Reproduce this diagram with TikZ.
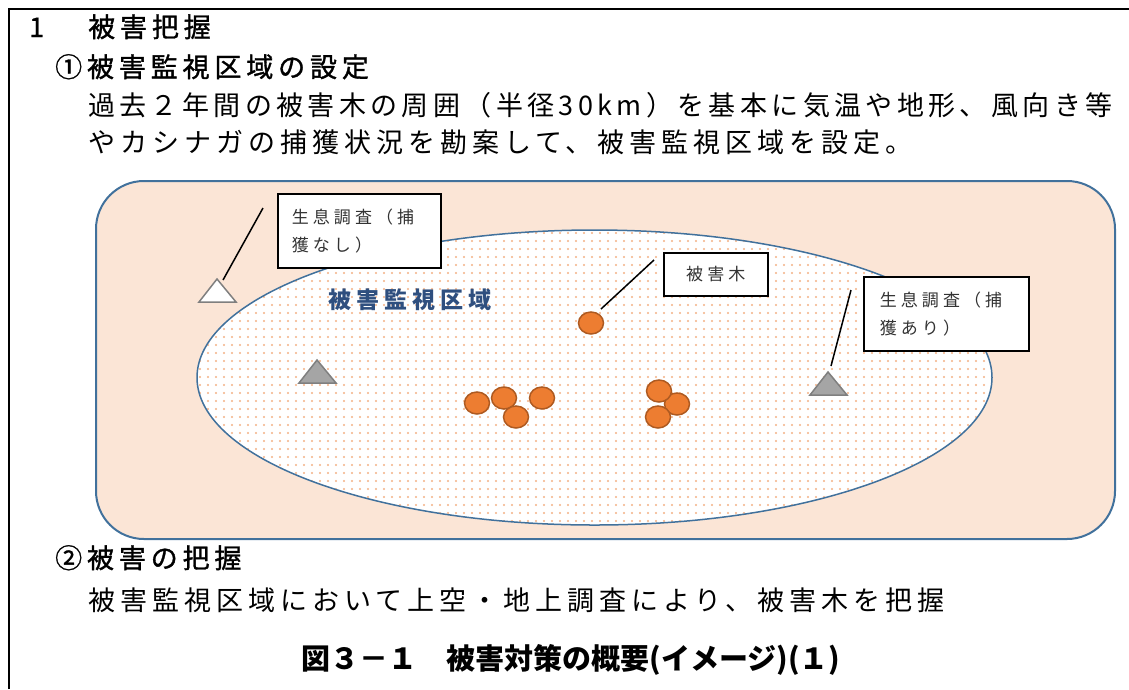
\documentclass[tikz,border=0pt]{standalone}
\usepackage{fontspec}
\setmainfont{Noto Sans CJK JP}
\newfontfamily\jpbody[LetterSpace=18.5]{Noto Sans CJK JP}
\newfontfamily\jpbodyA[LetterSpace=16.2]{Noto Sans CJK JP}
\newfontfamily\jphead[LetterSpace=18,FakeBold=1.2]{Noto Sans CJK JP}
\newfontfamily\jpbox[LetterSpace=24]{Noto Sans CJK JP}
\newfontfamily\jplabel[LetterSpace=22]{Noto Sans CJK JP}
\newfontfamily\jpcap{Noto Sans CJK JP}
\usetikzlibrary{shapes.geometric,patterns.meta}
\definecolor{zonefill}{HTML}{FBE5D6}
\definecolor{zoneline}{HTML}{41719C}
\definecolor{dotc}{HTML}{F4B183}
\definecolor{treefill}{HTML}{ED7D31}
\definecolor{treeline}{HTML}{AE5A21}
\definecolor{trifill}{HTML}{A5A5A5}
\definecolor{triline}{HTML}{7F7F7F}
\definecolor{zonelabel}{HTML}{2F4F7F}
\definecolor{boxtext}{HTML}{333333}
\tikzset{
  txt/.style={inner sep=0pt, font=\jpbody\fontsize{27}{32}\selectfont},
  txtA/.style={inner sep=0pt, font=\jpbodyA\fontsize{27}{32}\selectfont},
  head/.style={inner sep=0pt, font=\jphead\fontsize{27}{32}\selectfont},
  figcaption/.style={inner sep=0pt, font=\jpcap\bfseries\fontsize{29}{34}\selectfont},
  zlabel/.style={inner sep=0pt, text=zonelabel, font=\jplabel\bfseries\fontsize{23}{28}\selectfont},
  zonebox/.style={draw=zoneline, fill=zonefill, line width=2pt, rounded corners=48pt},
  zoneoval/.style={draw=zoneline, line width=1.5pt, preaction={fill=white},
    pattern={Dots[distance=8pt, radius=1.1pt]}, pattern color=dotc},
  treedot/.style={ellipse, draw=treeline, fill=treefill, line width=1.5pt,
    minimum width=25pt, minimum height=22pt, inner sep=0pt},
  tripale/.style={draw=triline, fill=white, line width=1.5pt, line join=miter},
  trigray/.style={draw=triline, fill=trifill, line width=1.5pt, line join=miter},
  labelbox/.style={draw=black, fill=white, line width=1.6pt, anchor=north west,
    text=boxtext, font=\jpbox\fontsize{17}{28}\selectfont, inner ysep=0pt},
  leader/.style={draw=black, line width=1.5pt},
  frame/.style={draw=black, line width=2pt}
}
\begin{document}
\begin{tikzpicture}[x=1pt,y=-1pt]
\useasboundingbox (0,0) rectangle (1129,689);
% outer frame
\draw[frame] (9,689) -- (9,9) -- (1129,9);
% headings and text
\node[head, anchor=base west] (h1num) at (29,37) {1};
\node[head, anchor=base west] (h1) at (88,37) {被害把握};
\node[head, anchor=base west] (h2) at (55,77) {①被害監視区域の設定};
\node[txtA, anchor=base west] (p1) at (88,115) {過去２年間の被害木の周囲（半径30km）を基本に気温や地形、風向き等};
\node[txt, anchor=base west] (p2) at (88,152) {やカシナガの捕獲状況を勘案して、被害監視区域を設定。};
% zone
\path[zonebox] (96,181) rectangle (1115,539);
\path[zoneoval] (594.5,377.5) ellipse [x radius=397.5, y radius=147.5];
\node[zlabel, anchor=base west] (zl) at (328,308.5) {被害監視区域};
% triangles
\path[tripale] (199,302) -- (217,279) -- (236,302) -- cycle;
\path[trigray] (299,383) -- (317,360) -- (336,383) -- cycle;
\path[trigray] (810,395) -- (828,372) -- (847,395) -- cycle;
% trees
\node[treedot] (tA) at (591,323) {};
\node[treedot] (tB) at (477,403) {};
\node[treedot] (tC) at (504,398) {};
\node[treedot] (tD) at (516,417) {};
\node[treedot] (tE) at (542,398) {};
\node[treedot] (tG) at (677,404) {};
\node[treedot] (tF) at (659,391) {};
\node[treedot] (tH) at (658,417) {};
% label boxes
\node[labelbox, minimum width=163pt, minimum height=74pt, text width=135pt, inner xsep=14pt, align=left] (boxA) at (277,193) {生息調査（捕\\獲なし）};
\node[labelbox, minimum width=104pt, minimum height=43pt, inner xsep=0pt, align=center] (boxB) at (663,252) {被害木};
\node[labelbox, minimum width=165pt, minimum height=74pt, text width=133pt, inner xsep=16pt, align=left] (boxC) at (863,276) {生息調査（捕\\獲あり）};
% leader lines
\coordinate (lA1) at (263,208);
\coordinate (lA2) at (223,280);
\coordinate (lB1) at (654,260);
\coordinate (lB2) at (601,309);
\coordinate (lC1) at (851,290);
\coordinate (lC2) at (831,366);
\draw[leader] (lA1) -- (lA2);
\draw[leader] (lB1) -- (lB2);
\draw[leader] (lC1) -- (lC2);
% part 2
\node[head, anchor=base west] (h3) at (55,568) {②被害の把握};
\node[txt, anchor=base west] (p3) at (88,610) {被害監視区域において上空・地上調査により、被害木を把握};
\node[figcaption, anchor=base] (fig) at (571,669.5) {図３－１　被害対策の概要(イメージ)(１)};
\end{tikzpicture}
\end{document}
